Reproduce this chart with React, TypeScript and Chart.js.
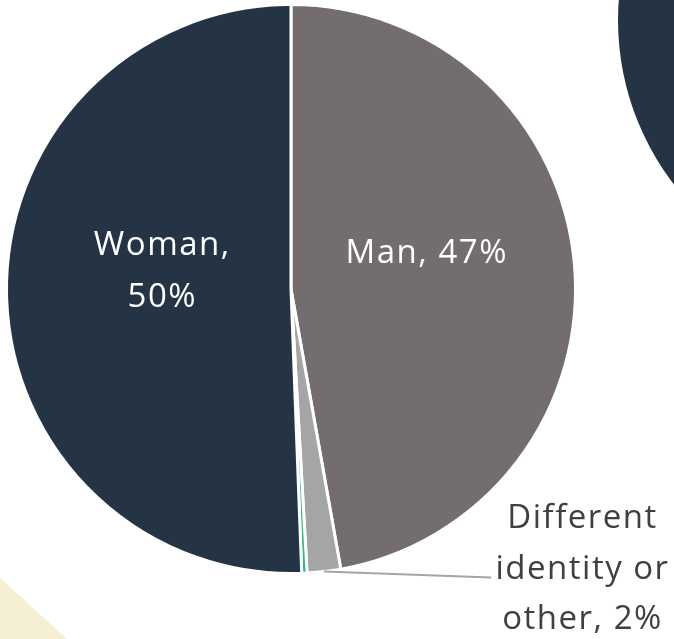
import React, { useEffect, useRef } from "react";
import { Chart, registerables } from "chart.js";

Chart.register(...registerables);

// ---- data ----
const categories = ["Man", "Different identity or other", "Prefer not to say", "Woman"];
const shares = [47.2, 1.9, 0.3, 50.6];
const sliceColors = ["#736e6d", "#a5a5a5", "#2ebd7b", "#243445"];
const labelLines: string[][] = [["Man, 47%"], ["Different", "identity or", "other, 2%"], [], ["Woman,", "50%"]];
const decoValues = [100];

// ---- layout (pixel offsets relative to pie centre, for radius 283) ----
const REF_R = 283;
const labelLayout = [
  { dx: 135, baselines: [-26], color: "#ffffff" },
  { dx: 290, baselines: [238, 288, 338], color: "#404040" },
  null,
  { dx: -128, baselines: [-34, 18], color: "#ffffff" },
];
const leaderEnd = { dx: 199, dy: 287 };
const FONT = "33px 'Open Sans'";
const LETTER_SPACING = "1.5px";

const labelPlugin = {
  id: "sliceLabels",
  afterDatasetsDraw(chart: any) {
    const meta = chart.getDatasetMeta(0);
    const ctx = chart.ctx;
    ctx.save();
    meta.data.forEach((arc: any, i: number) => {
      const lay = labelLayout[i];
      if (!lay) return;
      const s = arc.outerRadius / REF_R;
      if (i === 1) {
        const mid = (arc.startAngle + arc.endAngle) / 2;
        const sx = arc.x + Math.cos(mid) * arc.outerRadius;
        const sy = arc.y + Math.sin(mid) * arc.outerRadius;
        ctx.strokeStyle = "#a5a5a5";
        ctx.lineWidth = 2;
        ctx.beginPath();
        ctx.moveTo(sx, sy);
        ctx.lineTo(arc.x + leaderEnd.dx * s, arc.y + leaderEnd.dy * s);
        ctx.stroke();
      }
      ctx.fillStyle = lay.color;
      ctx.font = FONT;
      (ctx as any).letterSpacing = LETTER_SPACING;
      ctx.textAlign = "center";
      ctx.textBaseline = "alphabetic";
      labelLines[i].forEach((line, j) => {
        ctx.fillText(line, arc.x + lay.dx * s, arc.y + lay.baselines[j] * s);
      });
    });
    ctx.restore();
  },
};

export default function App() {
  const mainRef = useRef<HTMLCanvasElement>(null);
  const decoRef = useRef<HTMLCanvasElement>(null);

  useEffect(() => {
    const main = new Chart(mainRef.current!, {
      type: "pie",
      data: {
        labels: categories,
        datasets: [
          {
            data: shares,
            backgroundColor: sliceColors,
            borderColor: "#ffffff",
            borderWidth: 3,
            hoverBorderWidth: 3,
          },
        ],
      },
      options: {
        responsive: false,
        animation: false,
        layout: { padding: { left: 5, right: 97, top: 3, bottom: 64 } },
        plugins: { legend: { display: false }, tooltip: { enabled: false } },
      },
      plugins: [labelPlugin],
    });
    const deco = new Chart(decoRef.current!, {
      type: "pie",
      data: {
        labels: ["deco"],
        datasets: [{ data: decoValues, backgroundColor: ["#243445"], borderWidth: 0 }],
      },
      options: {
        responsive: false,
        animation: false,
        plugins: { legend: { display: false }, tooltip: { enabled: false } },
      },
    });
    return () => {
      main.destroy();
      deco.destroy();
    };
  }, []);

  return (
    <div
      style={{
        position: "fixed",
        left: 0,
        top: 0,
        width: 674,
        height: 639,
        overflow: "hidden",
        background: "#ffffff",
      }}
    >
      <div
        style={{
          position: "absolute",
          left: 0,
          top: 578,
          width: 67,
          height: 61,
          background: "#f5efd3",
          clipPath: "polygon(0 0, 100% 100%, 0 100%)",
        }}
      />
      <canvas
        ref={decoRef}
        width={540}
        height={540}
        style={{ position: "absolute", left: 618, top: -250, width: 540, height: 540 }}
      />
      <canvas
        ref={mainRef}
        width={674}
        height={639}
        style={{ position: "absolute", left: 0, top: 0, width: 674, height: 639 }}
      />
    </div>
  );
}
